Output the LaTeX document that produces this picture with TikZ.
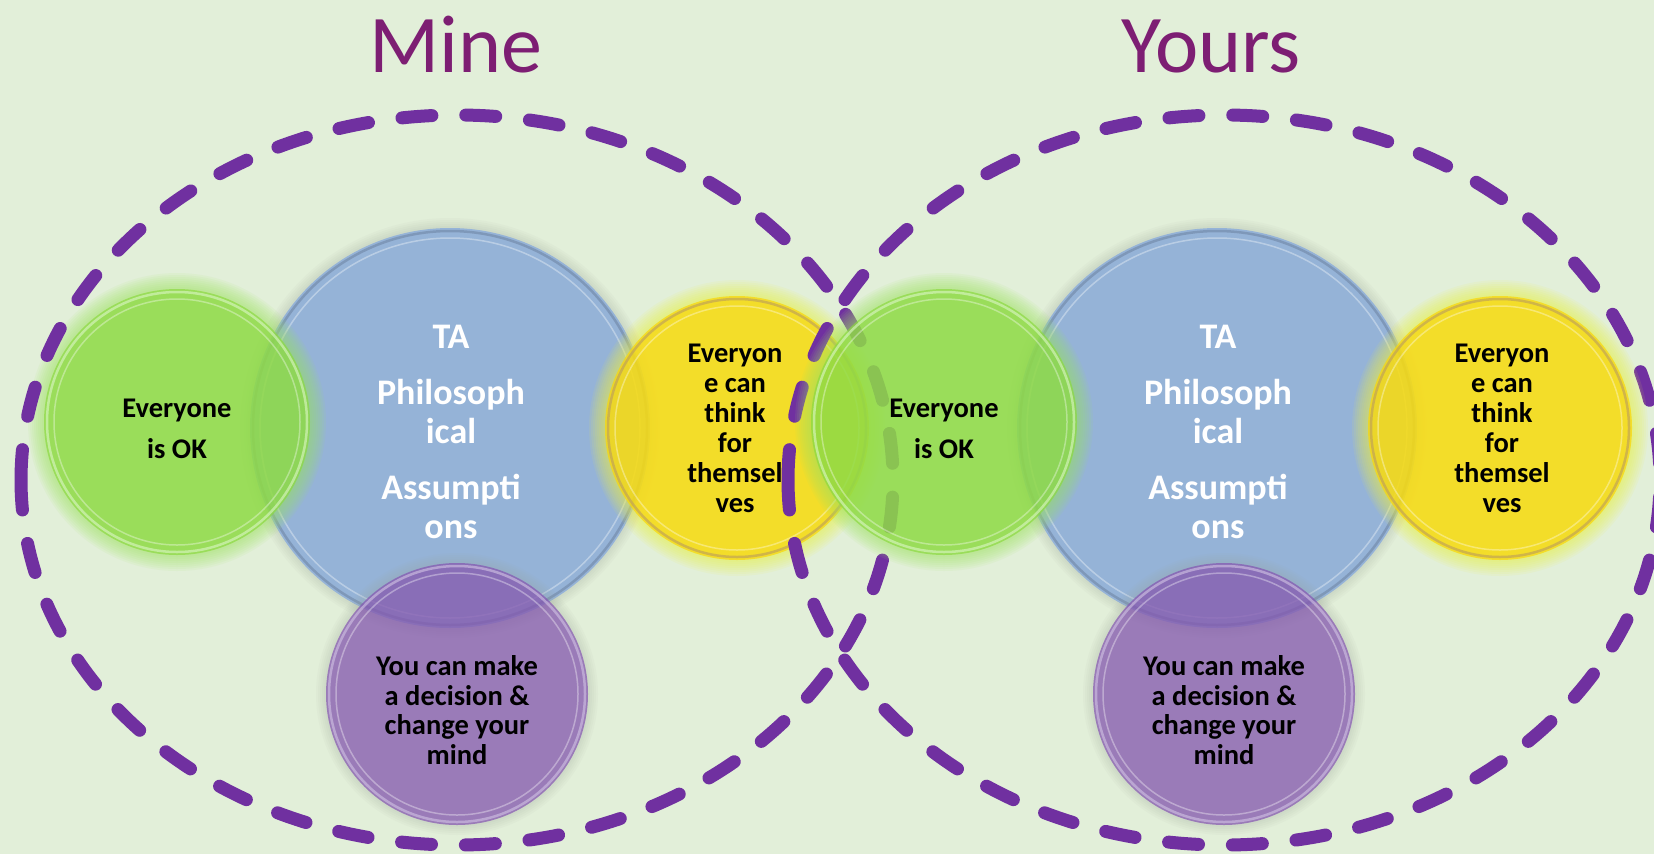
\documentclass[tikz,border=0pt]{standalone}
\usepackage{fontspec}
\setmainfont{Carlito}
\definecolor{bgc}{RGB}{226,239,217}
\definecolor{ringc}{RGB}{112,48,160}
\definecolor{titlec}{RGB}{125,30,115}
\definecolor{greenc}{RGB}{140,218,64}
\definecolor{greenglow}{RGB}{160,228,100}
\definecolor{yellowc}{RGB}{249,216,10}
\definecolor{yellowglow}{RGB}{238,240,70}
\definecolor{bluec}{RGB}{149,179,215}
\definecolor{purplec}{RGB}{132,83,178}
\definecolor{greenedge}{RGB}{215,245,190}
\definecolor{yellowedge}{RGB}{190,160,90}
\definecolor{blueedge}{RGB}{115,138,170}
\definecolor{purpleedge}{RGB}{205,190,225}
\definecolor{shadowc}{RGB}{150,160,150}
\newcommand\myglow[4]{% x, y, radius, colour
  \foreach \k in {1,...,8}{\fill[#4, fill opacity=0.09] (#1,#2) circle[radius=#3pt+\k*2pt];}}
\newcommand\myshadow[3]{% x, y, radius
  \foreach \k in {1,...,5}{\fill[shadowc, fill opacity=0.05] (#1,#2) circle[radius=#3pt+\k*2pt];}}
\newcommand\mybubble[7]{% name, x, y, radius, fill, opacity, edge
  \node[bubble, minimum size=2*#4pt, fill=#5, fill opacity=#6] (#1) at (#2,#3) {};
  \draw[#7, line width=2.5pt, opacity=0.65] (#1.center) circle[radius=#4pt-3pt];
  \draw[white, line width=1.5pt, opacity=0.35] (#1.center) circle[radius=#4pt-10pt];}
\tikzset{
  bubble/.style={circle, inner sep=0pt, outer sep=0pt, draw=none},
  titletext/.style={font=\fontsize{82}{94}\selectfont, text=titlec, anchor=base, inner sep=0pt},
  darktext/.style={font=\bfseries\fontsize{28.5}{30}\selectfont, text=black, align=center, inner sep=0pt},
  whitetext/.style={font=\bfseries\fontsize{36}{39}\selectfont, text=white, align=center, inner sep=0pt},
  dashring/.style={draw=ringc, line width=13pt, line cap=round, dash pattern=on 30pt off 33.88pt},
}
\begin{document}
\begin{tikzpicture}[x=1pt,y=-1pt]
\useasboundingbox (0,0) rectangle (1654,854);
\fill[bgc] (0,0) rectangle (1654,854);

% titles
\node[titletext] (mine) at (456,72) {Mine};
\node[titletext] (yours) at (1211,72) {Yours};

% ---- left group ----
\myshadow{450}{428}{200}
\mybubble{bL}{450}{428}{200}{bluec}{1}{blueedge}
\myglow{177}{422}{133}{greenglow}
\mybubble{gL}{177}{422}{133}{greenc}{0.7}{greenedge}
\myglow{737}{428}{132}{yellowglow}
\mybubble{yL}{737}{428}{132}{yellowc}{0.75}{yellowedge}
\myshadow{457}{694}{131}
\mybubble{pL}{457}{694}{131}{purplec}{0.7}{purpleedge}

\node[darktext, font=\bfseries\fontsize{28.5}{41}\selectfont] (tgL) at (177,429) {Everyone\\is OK};
\node[whitetext] (tbL) at (451,432) {TA\\[17pt]Philosoph\\ical\\[17pt]Assumpti\\ons};
\node[darktext] (tyL) at (735,428) {Everyon\\e can\\think\\for\\themsel\\ves};
\node[darktext, font=\bfseries\fontsize{28.5}{29.5}\selectfont] (tpL) at (457,710) {You can make\\a decision \&\\change your\\mind};

% ---- dashed rings ----
\coordinate (ringL) at (457,480);
\coordinate (ringR) at (1224,480);
\draw[dashring] (ringL) ++(-436pt,0pt) arc[start angle=180, end angle=540, x radius=436pt, y radius=365pt];
\draw[dashring] (ringR) ++(-436pt,0pt) arc[start angle=180, end angle=540, x radius=436pt, y radius=365pt];

% ---- right group ----
\myshadow{1217}{428}{200}
\mybubble{bR}{1217}{428}{200}{bluec}{1}{blueedge}
\myglow{944}{422}{133}{greenglow}
\mybubble{gR}{944}{422}{133}{greenc}{0.7}{greenedge}
\myglow{1500}{428}{132}{yellowglow}
\mybubble{yR}{1500}{428}{132}{yellowc}{0.75}{yellowedge}
\myshadow{1224}{694}{131}
\mybubble{pR}{1224}{694}{131}{purplec}{0.7}{purpleedge}

\node[darktext, font=\bfseries\fontsize{28.5}{41}\selectfont] (tgR) at (944,429) {Everyone\\is OK};
\node[whitetext] (tbR) at (1218,432) {TA\\[17pt]Philosoph\\ical\\[17pt]Assumpti\\ons};
\node[darktext] (tyR) at (1502,428) {Everyon\\e can\\think\\for\\themsel\\ves};
\node[darktext, font=\bfseries\fontsize{28.5}{29.5}\selectfont] (tpR) at (1224,710) {You can make\\a decision \&\\change your\\mind};
\end{tikzpicture}
\end{document}
